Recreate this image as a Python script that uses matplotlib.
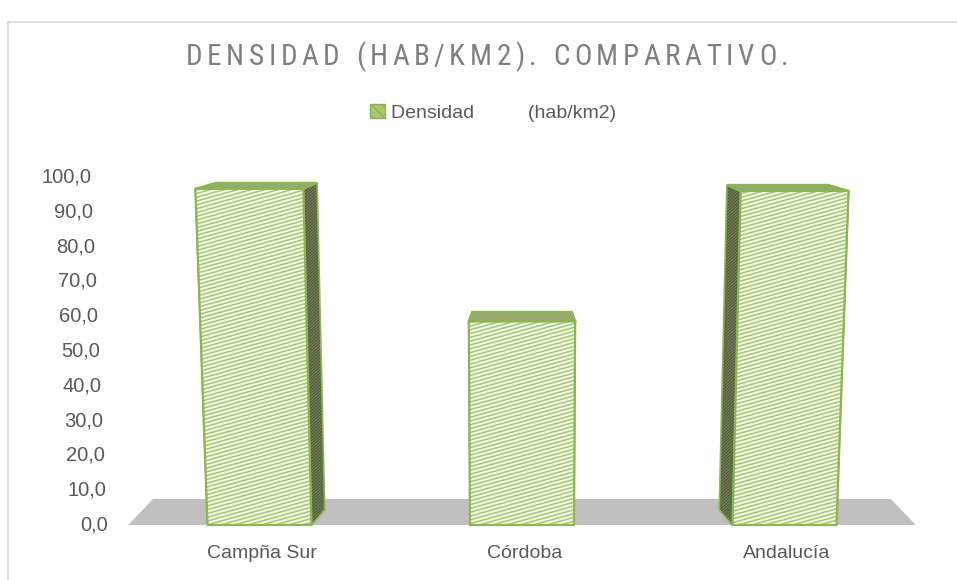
import numpy as np
import matplotlib
matplotlib.use('Agg')
import matplotlib.pyplot as plt
from matplotlib.patches import Polygon, Patch, Rectangle
from matplotlib.collections import LineCollection
from matplotlib import font_manager

# datos
categories = ['Campña Sur', 'Córdoba', 'Andalucía']
densidad = [96.6, 58.5, 96.0]
yticks = [0, 10, 20, 30, 40, 50, 60, 70, 80, 90, 100]
ytick_labels = ['0,0', '10,0', '20,0', '30,0', '40,0', '50,0', '60,0', '70,0', '80,0', '90,0', '100,0']
title = 'DENSIDAD (HAB/KM2). COMPARATIVO.'
series_label = 'Densidad          (hab/km2)'


def pick_font(names, default='DejaVu Sans'):
    for n in names:
        try:
            font_manager.findfont(n, fallback_to_default=False)
            return n
        except Exception:
            pass
    return default


FONT = pick_font(['Liberation Sans', 'Arial'])
NARROW = pick_font(['Liberation Sans Narrow', 'Arial Narrow', 'Roboto Condensed'], FONT)
plt.rcParams['font.family'] = [FONT, 'DejaVu Sans']

W, H = 957, 580
PX = 262.5      # px per category unit
PY = 3.48       # px per value unit
X0PX, Y0PX = 522, 525   # px of (x=1, value=0)

def x_of(px):
    return (px - X0PX) / PX + 1

def v_of(py):
    return (Y0PX - py) / PY

fig = plt.figure(figsize=(W / 100, H / 100), dpi=100)
ax = fig.add_axes([0, 0, 1, 1])
ax.set_xlim(x_of(0), x_of(W))
ax.set_ylim(v_of(H), v_of(0))
ax.axis('off')

# perspective helpers
CX = 1.0
A = 0.0004      # widening with height
K = 0.063       # depth shrink toward centre

def proj(x, v, d, dy_px=None):
    xs = CX + (x - CX) * (1 + A * v)
    xs = xs - (xs - CX) * K * d
    if dy_px is None:
        dy_px = 15 - 0.094 * v
    return xs, v + d * dy_px / PY


def stripes(poly, color, bg, slope=0.28, step=4.0, lw=1.0, z=3):
    p = Polygon(poly, closed=True, facecolor=bg, edgecolor='none', zorder=z)
    ax.add_patch(p)
    pts = np.array(poly)
    xs_px = (pts[:, 0] - 1) * PX + X0PX
    ys_px = Y0PX - pts[:, 1] * PY
    x1, x2 = xs_px.min() - 5, xs_px.max() + 5
    y1, y2 = ys_px.min() - 5, ys_px.max() + 5
    segs = []
    c = y1 - abs(slope) * (x2 - x1) - step
    while c < y2 + abs(slope) * (x2 - x1) + step:
        ya, yb = c + slope * (x2 - x1), c
        segs.append([(x_of(x1), v_of(ya)), (x_of(x2), v_of(yb))])
        c += step
    lc = LineCollection(segs, colors=color, linewidths=lw, zorder=z)
    lc.set_clip_path(p)
    ax.add_collection(lc)
    return p


EDGE = '#8DB552'
n = len(categories)

# floor
fl = [proj(-0.5, 0, 0), proj(n - 0.5, 0, 0),
      proj(n - 0.5, 0, 1, 26), proj(-0.5, 0, 1, 26)]
ax.add_patch(Polygon(fl, closed=True, facecolor='#BFBFBF', edgecolor='none', zorder=1))

hw = 0.198
for i, val in enumerate(densidad):
    xl, xr = i - hw, i + hw
    fbl, fbr = proj(xl, 0, 0), proj(xr, 0, 0)
    ftl, ftr = proj(xl, val, 0), proj(xr, val, 0)
    bbl, bbr = proj(xl, 0, 1), proj(xr, 0, 1)
    btl, btr = proj(xl, val, 1), proj(xr, val, 1)
    # sides
    for side in ([fbl, ftl, btl, bbl], [fbr, ftr, btr, bbr]):
        stripes(side, '#76825A', '#4E583A', slope=0.9, step=3.0, lw=0.8, z=2)
        ax.add_patch(Polygon(side, closed=True, facecolor='none', edgecolor=EDGE, lw=1.2, zorder=2))
    # top
    top = [ftl, ftr, btr, btl]
    stripes(top, '#8FAA5C', '#A5AA95', slope=-3.0, step=7, lw=1.0, z=3)
    ax.add_patch(Polygon(top, closed=True, facecolor='none', edgecolor=EDGE, lw=1.6, zorder=3))
    # front
    front = [fbl, fbr, ftr, ftl]
    stripes(front, '#A6C671', '#F1F7E6', slope=0.28, step=3.8, lw=1.1, z=4)
    ax.add_patch(Polygon(front, closed=True, facecolor='none', edgecolor=EDGE, lw=1.6, zorder=4))

# value axis labels (slanted with perspective)
xlab = x_of(108)
for v, lab in zip(yticks, ytick_labels):
    x, _ = proj(xlab, v, 0)
    ax.text(x, v, lab, ha='right', va='center', fontsize=14.5, color='#595959')

# category labels
for i, cat in enumerate(categories):
    ax.text(i + 0.01, v_of(553), cat, ha='center', va='center', fontsize=14, color='#595959')

# chart border (left and top visible only)
fig.patches.append(Rectangle((8 / W, -0.1), 1.2, 1.1 - 22 / H, transform=fig.transFigure,
                             facecolor='none', edgecolor='#D9D9D9', lw=1.2))

# title with letter spacing
r = fig.canvas.get_renderer()
tkw = dict(fontsize=21, color='#7F7F7F', family=[NARROW, 'DejaVu Sans'])
widths = []
for ch in title:
    if ch == ' ':
        widths.append(7.0)
        continue
    t = fig.text(0, 0, ch, **tkw)
    widths.append(t.get_window_extent(r).width)
    t.remove()
gap = 4.6
total = sum(widths) + gap * (len(title) - 1)
xpos = 487 - total / 2
for ch, w in zip(title, widths):
    if ch != ' ':
        fig.text(xpos / W, 1 - 57 / H, ch, ha='left', va='center', **tkw)
    xpos += w + gap

# legend
handle = Patch(facecolor='#A6C86E', edgecolor='#8DB552', hatch='\\\\\\')
fig.legend([handle], [series_label], loc='center', bbox_to_anchor=(493 / W, 1 - 113 / H),
           frameon=False, fontsize=14, handlelength=0.75, handleheight=0.75,
           handletextpad=0.3, borderpad=0, labelcolor='#595959')

fig.savefig('out.png', dpi=100)
